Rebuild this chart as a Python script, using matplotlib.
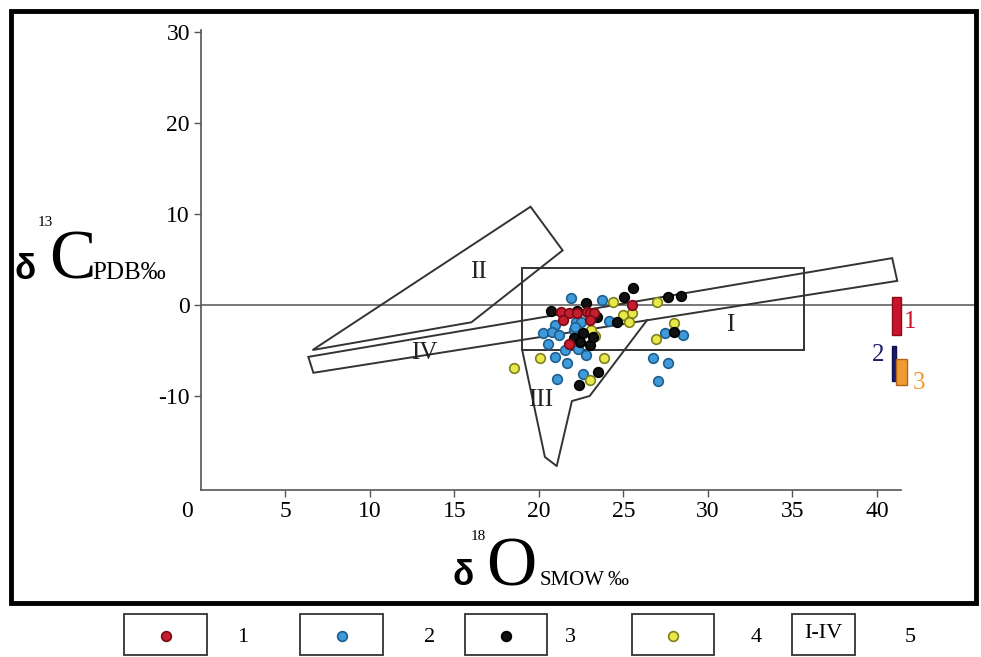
import matplotlib
matplotlib.use('Agg')
import matplotlib.pyplot as plt
from matplotlib.patches import Rectangle, Polygon
from matplotlib.lines import Line2D

W, H = 981, 657
plt.rcParams['axes.unicode_minus'] = False

# sample groups (delta18O SMOW, delta13C PDB)
red_x = [21.3, 21.8, 22.25, 22.85, 23.0, 23.25, 21.45, 23.0, 21.8, 25.5]
red_y = [-0.8, -0.9, -0.9, -0.8, -0.85, -0.9, -1.65, -1.65, -4.3, 0.0]

blue_x = [21.9, 23.7, 22.2, 22.5, 24.15, 20.95, 20.25, 20.75, 21.2, 22.1, 22.15,
          20.55, 21.55, 22.3, 22.8, 20.95, 21.65, 27.45, 28.5, 26.75, 27.65,
          27.05, 21.05, 22.6]
blue_y = [0.75, 0.55, -1.85, -1.85, -1.75, -2.2, -3.05, -2.95, -3.3, -2.75, -2.4,
          -4.3, -5.0, -4.85, -5.5, -5.7, -6.35, -3.05, -3.3, -5.85, -6.35,
          -8.3, -8.15, -7.6]

black_x = [25.55, 25.05, 22.8, 20.7, 22.25, 27.65, 28.4, 23.45, 24.6, 28.0, 22.6,
           22.05, 22.45, 23.0, 23.5, 22.35, 23.2]
black_y = [1.85, 0.9, 0.25, -0.65, -0.65, 0.9, 1.0, -1.3, -1.85, -2.95, -3.1,
           -3.65, -4.05, -4.4, -7.35, -8.8, -3.5]

yellow_x = [24.35, 27.0, 25.5, 24.95, 25.3, 28.0, 23.3, 23.1, 26.9, 20.05, 23.85,
            18.5, 23.0]
yellow_y = [0.3, 0.3, -0.85, -1.1, -1.85, -2.0, -3.4, -2.75, -3.75, -5.85, -5.85,
            -6.95, -8.25]

# fields I-IV
field_I = [(19.0, 4.05), (35.7, 4.05), (35.7, -4.9), (19.0, -4.9)]
field_II = [(6.6, -4.95), (19.5, 10.8), (21.4, 6.0), (16.0, -1.9)]
field_III = [(19.0, -4.9), (20.35, -16.7), (21.05, -17.7), (21.95, -10.55),
             (23.0, -10.0), (26.4, -1.65)]
field_IV = [(6.35, -5.7), (40.9, 5.15), (41.2, 2.65), (6.65, -7.45)]
field_labels = ['I', 'II', 'III', 'IV']
label_x = [31.3, 16.4, 20.1, 13.2]
label_y = [-2.2, 3.6, -10.4, -5.3]

# ranges on the right (x0, width, y_low, y_high)
bar_x = [40.9, 40.87, 41.15]
bar_w = [0.5, 0.25, 0.62]
bar_lo = [-3.3, -8.4, -8.8]
bar_hi = [0.85, -4.5, -5.9]
bar_face = ['#c8142a', '#1c1c6a', '#f09a30']
bar_edge = ['#8a0a18', '#10104a', '#b0641a']
bar_num = ['1', '2', '3']
bar_num_x = [41.95, 40.05, 42.5]
bar_num_y = [-1.9, -5.5, -8.6]

serif = 'Liberation Serif'

fig = plt.figure(figsize=(W / 100, H / 100), dpi=100)
ax = fig.add_axes([201 / W, 1 - 490 / H, 774 / W, 460 / H])
ax.set_xlim(0, 45.8)
ax.set_ylim(-20.33, 30.22)

ax.spines['top'].set_visible(False)
ax.spines['right'].set_visible(False)
ax.spines['bottom'].set_bounds(0, 41.4)
for s in ['left', 'bottom']:
    ax.spines[s].set_color('#555555')
    ax.spines[s].set_linewidth(1.2)

ax.set_xticks([5, 10, 15, 20, 25, 30, 35, 40])
ax.set_yticks([-10, 0, 10, 20, 30])
ax.tick_params(direction='out', length=5, width=1, color='#555555', labelsize=17,
               pad=3)
for lab in ax.get_xticklabels() + ax.get_yticklabels():
    lab.set_fontfamily(serif)
# the "0" of the x axis sits left of the corner
ax.annotate('0', xy=(0, -20.33), xycoords='data', xytext=(-10, -8),
            textcoords='offset points', fontsize=17, family=serif,
            ha='center', va='top')

ax.plot([0, 45.8], [0, 0], color='#555555', lw=1.1, zorder=1)

for poly in [field_I, field_II, field_IV]:
    ax.add_patch(Polygon(poly, closed=True, fill=False, ec='#333333', lw=1.4,
                         zorder=2))
ax.plot([p[0] for p in field_III], [p[1] for p in field_III], color='#333333',
        lw=1.4, zorder=2)
for t, x, y in zip(field_labels, label_x, label_y):
    ax.text(x, y, t, fontsize=18, family=serif, ha='center', va='center',
            color='#222222')

ms = 48
ax.scatter(blue_x, blue_y, s=ms, c='#3e9ad8', edgecolors='#1f5f8f', lw=1.2, zorder=3)
ax.scatter(yellow_x, yellow_y, s=ms, c='#e8e84a', edgecolors='#80801e', lw=1.2, zorder=3)
ax.scatter(black_x, black_y, s=ms, c='#111111', edgecolors='#000000', lw=1.2, zorder=4)
ax.scatter(red_x, red_y, s=ms, c='#c41e30', edgecolors='#7a0a14', lw=1.2, zorder=4)

for i in range(3):
    ax.add_patch(Rectangle((bar_x[i], bar_lo[i]), bar_w[i], bar_hi[i] - bar_lo[i],
                           fc=bar_face[i], ec=bar_edge[i], lw=1, zorder=3))
    ax.text(bar_num_x[i], bar_num_y[i], bar_num[i], fontsize=18, family=serif,
            color=bar_face[i], ha='center', va='center')


def ftext(px, py, s, **kw):
    fig.text(px / W, 1 - py / H, s, **kw)


# y label
ftext(14, 279, 'δ', fontsize=25, family='Liberation Sans', weight='bold', va='baseline')
ftext(38, 226, '13', fontsize=11, family=serif, va='baseline')
ftext(49, 279, 'C', fontsize=50, family=serif, va='baseline')
ftext(92, 279, 'PDB‰', fontsize=18, family=serif, va='baseline')

# x label
ftext(452, 585, 'δ', fontsize=25, family='Liberation Sans', weight='bold', va='baseline')
ftext(471, 540, '18', fontsize=11, family=serif, va='baseline')
ftext(486, 585, 'O', fontsize=50, family=serif, va='baseline')
ftext(540, 585, 'SMOW', fontsize=15, family=serif, va='baseline')
ftext(608, 585, '‰', fontsize=15, family=serif, va='baseline')

# outer frame
fig.add_artist(Rectangle((11 / W, 1 - 603 / H), 965 / W, 592 / H, fill=False,
                         lw=3.5, ec='black', transform=fig.transFigure))

# legend below the frame
box_left = [124, 300, 465, 632, 792]
box_width = [83, 83, 82, 82, 63]
legend_nums = ['1', '2', '3', '4', '5']
num_x = [243, 430, 570, 756, 910]
dot_face = ['#c41e30', '#3e9ad8', '#111111', '#e8e84a']
dot_edge = ['#7a0a14', '#1f5f8f', '#000000', '#80801e']
for i in range(5):
    fig.add_artist(Rectangle((box_left[i] / W, 1 - 655 / H), box_width[i] / W, 41 / H,
                             fill=False, lw=1.3, ec='#333333',
                             transform=fig.transFigure))
    ftext(num_x[i], 637, legend_nums[i], fontsize=16, family=serif, ha='center',
          va='center')
    if i < 4:
        cx = box_left[i] + box_width[i] / 2
        fig.add_artist(Line2D([cx / W], [1 - 636 / H], marker='o', ms=7,
                              mfc=dot_face[i], mec=dot_edge[i], mew=1.2,
                              transform=fig.transFigure))
ftext(823, 634, 'I-IV', fontsize=16, family=serif, ha='center', va='center')

fig.savefig('out.png', dpi=100, facecolor='white')
